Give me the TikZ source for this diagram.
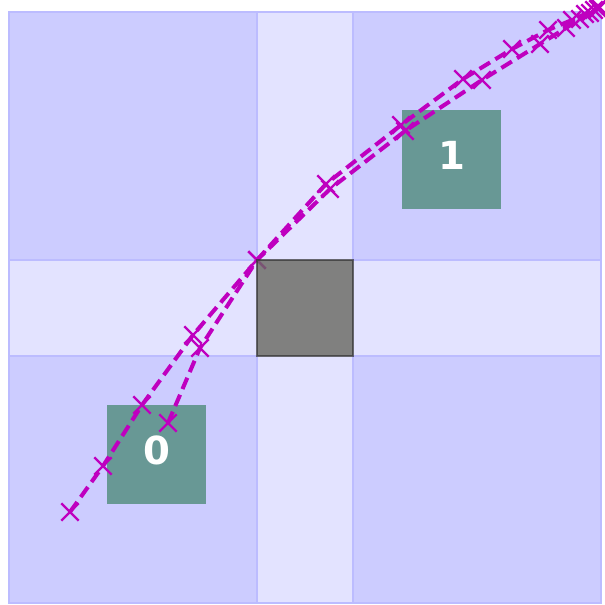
\documentclass[tikz,border=0pt]{standalone}
\usepackage{fontspec}
\newfontfamily\labelfont{DejaVu Sans}
\usetikzlibrary{plotmarks}
\definecolor{cellfill}{RGB}{204,204,255}
\definecolor{bandfill}{RGB}{227,227,255}
\definecolor{celledge}{RGB}{188,188,255}
\definecolor{goalteal}{RGB}{104,152,149}
\definecolor{trajm}{RGB}{191,0,191}
\definecolor{blockgray}{RGB}{104,104,96}

\begin{document}
\begin{tikzpicture}[x=0.2mm,y=-0.2mm,
  cell/.style={fill=cellfill,draw=celledge,line width=0.6pt},
  band/.style={fill=bandfill,draw=celledge,line width=0.6pt},
  goal/.style={fill=goalteal,minimum size=19.8mm,inner sep=0pt,text depth=1.6mm,text=white,font=\labelfont\bfseries\fontsize{22}{22}\selectfont},
  block/.style={fill=blockgray,fill opacity=0.8,draw=black!80,draw opacity=0.7,line width=0.9pt,minimum size=19.2mm,inner sep=0pt,outer sep=0pt},
  traj/.style={trajm,line width=2.3pt,dash pattern=on 7pt off 3.5pt,mark=x,mark size=7pt,mark options={solid,line width=1.4pt}}]
\useasboundingbox (0,0) rectangle (605,605);
% the grid: light bands, four darker cells
\draw[band] (9,12) rectangle (601,603);
\foreach \xa/\xb in {9/257,353/601} \foreach \ya/\yb in {12/260,356/603}
  \draw[cell] (\xa,\ya) rectangle (\xb,\yb);
% goals
\node[goal] (g0) at (156.5,454) {0};
\node[goal] (g1) at (451.5,159) {1};
% the two runs meet at the block corner
\coordinate (meet) at (257,260);
\draw[traj] plot coordinates {(70,512) (103,466) (142,405) (193,335) (meet) (326,184) (401,125) (463,79) (512,49) (548,30) (572,20) (585,14) (594,10) (599,7)};
\draw[traj] plot coordinates {(168,423) (200,348) (meet) (330,189) (405,131) (482,80) (540,44) (566,28) (580,19) (590,13) (598,9)};
\node[block,anchor=north west] (blk) at (meet) {};
\end{tikzpicture}
\end{document}
